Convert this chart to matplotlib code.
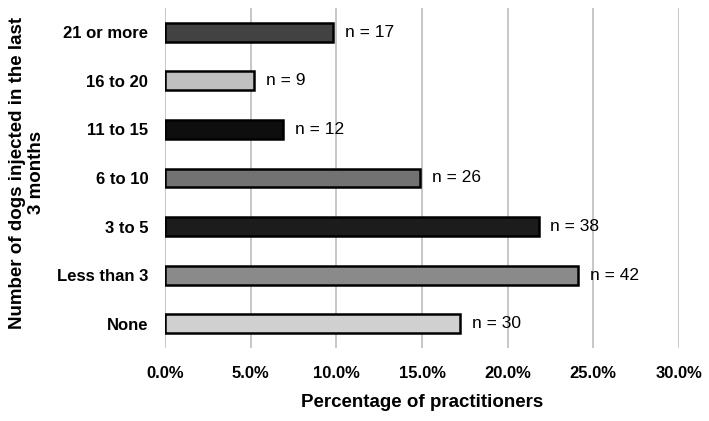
import numpy as np
import matplotlib.pyplot as plt

# categories bottom -> top
categories = ['None', 'Less than 3', '3 to 5', '6 to 10', '11 to 15', '16 to 20', '21 or more']
counts = [30, 42, 38, 26, 12, 9, 17]
percent = [17.2, 24.1, 21.8, 14.9, 6.9, 5.2, 9.8]
colors = ['#d0d0d0', '#8a8a8a', '#1c1c1c', '#727272', '#0e0e0e', '#c0c0c0', '#424242']
xticks = [0, 5, 10, 15, 20, 25, 30]

plt.rcParams['font.family'] = ['Liberation Sans', 'DejaVu Sans']

fig = plt.figure(figsize=(7.09, 4.21), dpi=100)
ax = fig.add_axes([165/709, 1 - 348/421, (679 - 165)/709, 340/421])

y = np.arange(len(categories))
ax.barh(y, percent, height=0.39, color=colors, edgecolor='black', linewidth=1.8, zorder=3)

for yi, p, n in zip(y, percent, counts):
    ax.text(p + 0.7, yi, 'n = %d' % n, va='center', ha='left', fontsize=12.5, zorder=4)

ax.set_xlim(0, 30)
ax.set_ylim(-0.5, len(categories) - 0.5)
ax.set_xticks(xticks)
ax.set_xticklabels(['%.1f%%' % t for t in xticks], fontsize=12, fontweight='bold')
ax.set_yticks(y)
ax.set_yticklabels(categories, fontsize=12, fontweight='bold')
ax.tick_params(length=0)
ax.tick_params(axis='x', pad=13)
ax.tick_params(axis='y', pad=12)
ax.grid(axis='x', color='#bdbdbd', linewidth=1.2, zorder=0)
for s in ax.spines.values():
    s.set_visible(False)

ax.set_xlabel('Percentage of practitioners', fontsize=13.5, fontweight='bold', labelpad=9)
fig.text(0.038, 0.59, 'Number of dogs injected in the last\n3 months', rotation=90,
         ha='center', va='center', multialignment='center', fontsize=13.5, fontweight='bold')

fig.savefig('out.png', dpi=100)
